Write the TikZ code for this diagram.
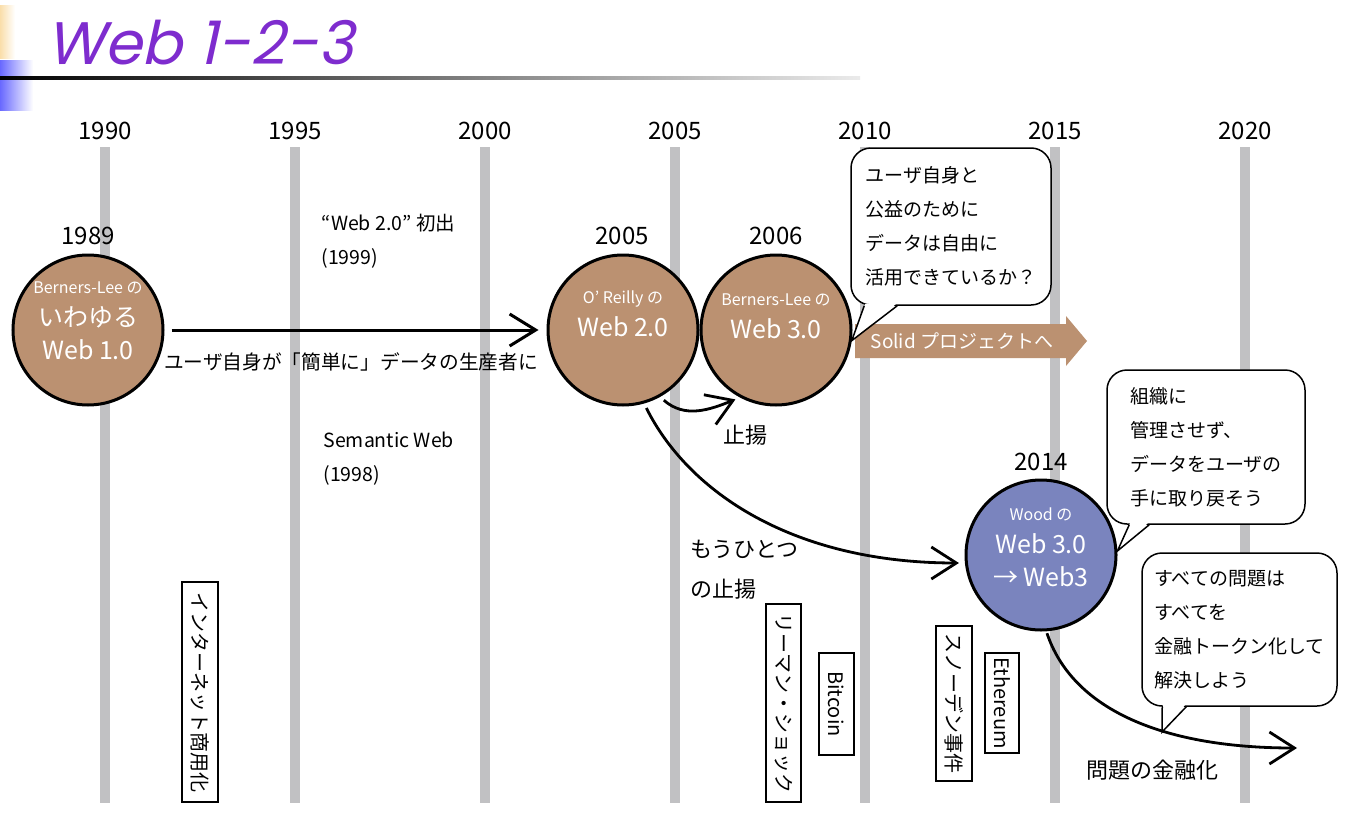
\documentclass[tikz,border=0pt]{standalone}
\usepackage{fontspec}
\setmainfont{Noto Sans CJK JP}
\newfontfamily\titlefont{Poppins}[FakeSlant=0.22]
\usepackage{tikz}
\usetikzlibrary{calc,positioning,arrows.meta}
\definecolor{webtan}{RGB}{187,145,113}
\definecolor{webblue}{RGB}{122,132,190}
\definecolor{bargray}{RGB}{193,193,195}
\definecolor{titlepurple}{RGB}{126,44,206}

\begin{document}
\begin{tikzpicture}[x=1pt, y=-1pt,
    yearlbl/.style={font=\fontsize{24}{24}\selectfont},
    disc/.style={circle, draw=black, line width=3pt, minimum size=150pt, inner sep=0pt},
    disctext/.style={text=white, align=center, font=\fontsize{25}{33}\selectfont},
    bubble/.style={draw=black, line width=1.5pt, fill=white, rounded corners=20pt,
                   align=left, font=\fontsize{19}{34}\selectfont},
    tail/.style={draw=black, line width=1.5pt},
    vbox/.style={draw=black, line width=1.5pt, rotate=-90, inner sep=2pt,
                 font=\fontsize{20}{20}\selectfont},
    note/.style={align=left, font=\fontsize{19.5}{34}\selectfont},
    bignote/.style={align=left, font=\fontsize{22}{40}\selectfont},
    arr/.style={line width=3pt, -{Straight Barb[length=26pt,width=32pt]}},
    curvearr/.style={line width=2.8pt, -{Straight Barb[length=25pt,width=32pt]}}]
    \useasboundingbox (0,0) rectangle (1347,819);

    \shade[left color={rgb,255:red,250;green,222;blue,170}, right color=white] (0,5) rectangle (15,58);
    \shade[left color={rgb,255:red,105;green,105;blue,255}, right color=white] (0,60) rectangle (33,110);
    \shade[left color=black, right color=black!8] (0,76.5) rectangle (860,79.5);
    \node[anchor=base west, inner sep=0pt, text=titlepurple,
          font=\titlefont\fontsize{60}{60}\selectfont] (title) at (46,64) {Web 1-2-3};

    \foreach \yr [count=\i from 0] in {1990,1995,2000,2005,2010,2015,2020} {
        \fill[bargray] (100+190*\i,147) rectangle (110+190*\i,803);
        \node[yearlbl] (yr\yr) at (105+190*\i,131) {\yr};
    }

    \node[disc, fill=webtan] (web1) at (88,330) {};
    \node[disc, fill=webtan] (web2) at (623,330) {};
    \node[disc, fill=webtan] (web3) at (776,330) {};
    \node[disc, fill=webblue] (web4) at (1041,555) {};
    \node[disctext] (web1txt) at ([yshift=9pt]web1.center)
        {{\fontsize{16}{16}\selectfont Berners-Lee の}\\いわゆる\\Web 1.0};
    \node[disctext] (web2txt) at ([yshift=16pt]web2.center)
        {{\fontsize{16}{16}\selectfont O’ Reilly の}\\Web 2.0};
    \node[disctext] (web3txt) at ([yshift=14pt]web3.center)
        {{\fontsize{16}{16}\selectfont Berners-Lee の}\\Web 3.0};
    \node[disctext] (web4txt) at ([yshift=8pt]web4.center)
        {{\fontsize{16}{16}\selectfont Wood の}\\Web 3.0\\→ Web3};
    \node[yearlbl] (yr1989) at (88,236) {1989};
    \node[yearlbl] (yr2005b) at (622,236) {2005};
    \node[yearlbl] (yr2006) at (776,236) {2006};
    \node[yearlbl] (yr2014) at (1041,462) {2014};

    \fill[webtan] (855,324) -- (1066,324) -- (1066,316) -- (1087,341) -- (1066,366)
        -- (1066,358) -- (855,358) -- cycle;
    \node[text=white, font=\fontsize{19}{19}\selectfont] (solid) at (962,341) {Solid プロジェクトへ};

    \draw[arr, shorten <=7pt, shorten >=8pt] (web1.east) -- (web2.west);
    \node[font=\fontsize{19.7}{20}\selectfont] (producer) at (351,362)
        {ユーザ自身が「簡単に」データの生産者に};
    \node[note, anchor=west] (web20) at (318,241) {“Web 2.0” 初出\\(1999)};
    \node[note, anchor=west] (semweb) at (320,459) {Semantic Web\\(1998)};

    \draw[curvearr, shorten <=5pt, shorten >=5pt] (web2.-61) .. controls +(25,22) and +(-30,12) .. (web3.-118);
    \node[font=\fontsize{22}{22}\selectfont] (aufheben) at (745,435) {止揚};
    \draw[curvearr, shorten <=5pt, shorten >=6pt] (web2.-74) .. controls +(45,90) and +(-170,0) .. (web4.186);
    \node[bignote, anchor=west] (another) at (687,570) {もうひとつ\\の止揚};

    \node[bubble, minimum width=200pt, minimum height=157pt] (q1) at (951,226.5)
        {ユーザ自身と\\公益のために\\データは自由に\\活用できているか？};
    \fill[white] ($(q1.south west)+(15,-2)$) -- (web3.-8) -- ($(q1.south west)+(46,-2)$) -- cycle;
    \draw[tail] ($(q1.south west)+(14,0)$) -- (web3.-8) -- ($(q1.south west)+(47,0)$);

    \node[bubble, minimum width=198pt, minimum height=154pt] (q2) at (1206,447)
        {組織に\\管理させず、\\データをユーザの\\手に取り戻そう};
    \fill[white] ($(q2.south west)+(24,-2)$) -- (web4.3) -- ($(q2.south west)+(42,-2)$) -- cycle;
    \draw[tail] ($(q2.south west)+(23,0)$) -- (web4.3) -- ($(q2.south west)+(43,0)$);

    \node[bubble, minimum width=195pt, minimum height=153pt] (q3) at (1239.5,629.5)
        {すべての問題は\\すべてを\\金融トークン化して\\解決しよう};
    \coordinate (q3tip) at (1162,732);
    \fill[white] ($(q3.south west)+(22,-2)$) -- (q3tip) -- ($(q3.south west)+(44,-2)$) -- cycle;
    \draw[tail] ($(q3.south west)+(21,0)$) -- (q3tip) -- ($(q3.south west)+(45,0)$);

    \coordinate (fin) at (1297,748);
    \draw[curvearr, shorten <=2pt] (web4.-86) .. controls +(25,75) and +(-140,0) .. (fin);
    \node[font=\fontsize{22}{22}\selectfont] (finance) at (1152,770) {問題の金融化};

    \node[vbox, minimum width=220pt, minimum height=36pt] (inet) at (200,692) {インターネット商用化};
    \node[vbox, minimum width=198pt, minimum height=35pt] (lehman) at (783.5,703) {リーマン・ショック};
    \node[vbox, minimum width=102pt, minimum height=35pt] (btc) at (836.5,704) {Bitcoin};
    \node[vbox, minimum width=155pt, minimum height=36pt] (snowden) at (954,703.5) {スノーデン事件};
    \node[vbox, minimum width=100pt, minimum height=34pt] (eth) at (1002,703) {Ethereum};
\end{tikzpicture}
\end{document}
